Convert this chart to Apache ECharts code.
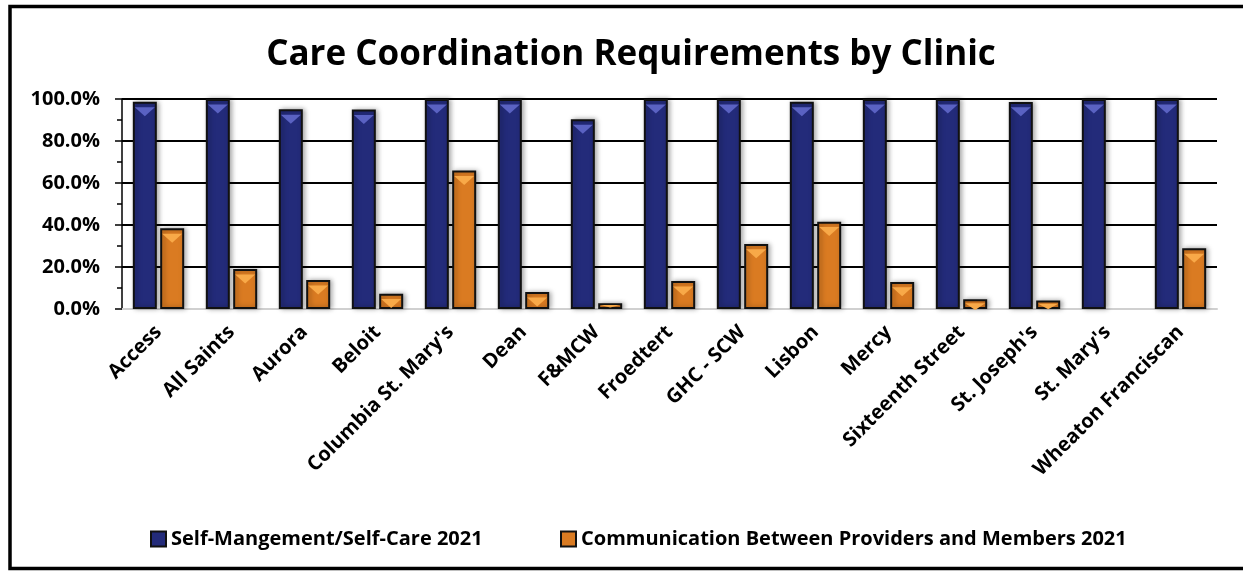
<!DOCTYPE html>
<html>
<head>
<meta charset="utf-8">
<script src="https://cdn.jsdelivr.net/npm/echarts@6/dist/echarts.min.js"></script>
<style>
html,body{margin:0;padding:0;background:#fff;}
#chart{width:1243px;height:571px;}
</style>
</head>
<body>
<div id="chart"></div>
<script>
const titleText = "Care Coordination Requirements by Clinic";
const categories = ["Access","All Saints","Aurora","Beloit","Columbia St. Mary's","Dean","F&MCW","Froedtert","GHC - SCW","Lisbon","Mercy","Sixteenth Street","St. Joseph's","St. Mary's","Wheaton Franciscan"];
const seriesNames = ["Self-Mangement/Self-Care 2021","Communication Between Providers and Members 2021"];
const selfCare = [98.7,100,95.1,95.0,100,100,90.3,100,100,98.7,100,100,98.6,100,100];
const communication = [38.4,19.0,13.8,7.3,65.9,8.1,2.7,13.3,31.0,41.6,12.9,4.6,4.0,0,28.9];
const yTicks = [0,20,40,60,80,100];

const FONT = "'Open Sans', 'Noto Sans', sans-serif";
const chart = echarts.init(document.getElementById('chart'));

function barStyle(color){
  return {
    color: color,
    borderColor: '#111111',
    borderWidth: 2,
    shadowBlur: 5,
    shadowOffsetX: 2,
    shadowOffsetY: 0,
    shadowColor: 'rgba(0,0,0,0.35)'
  };
}
function barData(values){
  return values.map(v => v === 0 ? {value: v, itemStyle: {borderWidth: 0, shadowBlur: 0}} : v);
}
// bevel highlight: shrink for very short bars so it stays inside the bar
function bevelData(values){
  return values.map(v => {
    const h = Math.min(9, v * 2.1 - 3);
    return h < 1.5 ? {value: v, symbolSize: [0, 0]} : {value: v, symbolSize: [20, h]};
  });
}

chart.setOption({
  animation: false,
  backgroundColor: '#ffffff',
  title: {
    text: titleText,
    left: 626,
    top: 33,
    textAlign: 'center',
    textStyle: {fontFamily: FONT, fontWeight: 'bold', fontSize: 35, color: '#000'}
  },
  graphic: [{
    type: 'rect',
    shape: {x: 10, y: 6.5, width: 1300, height: 562},
    style: {fill: 'none', stroke: '#000', lineWidth: 3.5},
    silent: true,
    z: 100
  }],
  legend: [{
    data: [seriesNames[0]],
    left: 145, top: 524,
    itemWidth: 15, itemHeight: 15, itemGap: 5,
    icon: 'rect',
    textStyle: {fontFamily: FONT, fontWeight: 'bold', fontSize: 20, color: '#000'}
  },{
    data: [seriesNames[1]],
    left: 555, top: 524,
    itemWidth: 15, itemHeight: 15, itemGap: 5,
    icon: 'rect',
    textStyle: {fontFamily: FONT, fontWeight: 'bold', fontSize: 20, color: '#000'}
  }],
  grid: {left: 122, right: 26, top: 99, bottom: 262, containLabel: false},
  xAxis: {
    type: 'category',
    data: categories,
    axisLine: {show: true, lineStyle: {color: '#d0d0d0', width: 2}},
    axisTick: {show: false},
    axisLabel: {
      interval: 0, rotate: 45, margin: 20,
      fontFamily: FONT, fontWeight: 'bold', fontSize: 20, color: '#000'
    }
  },
  yAxis: {
    type: 'value',
    min: 0, max: 100, interval: 20,
    axisLine: {show: true, lineStyle: {color: '#000', width: 1.5}},
    axisTick: {show: true, length: 7, lineStyle: {color: '#000', width: 1.5}},
    minorTick: {show: true, splitNumber: 2, length: 5, lineStyle: {color: '#000', width: 1.5}},
    splitLine: {show: true, lineStyle: {color: '#000', width: 2}},
    axisLabel: {
      margin: 22,
      fontFamily: FONT, fontWeight: 'bold', fontSize: 20, color: '#000',
      formatter: v => yTicks.includes(v) ? v.toFixed(1) + '%' : ''
    }
  },
  series: [{
    name: seriesNames[0],
    type: 'bar',
    data: barData(selfCare),
    barWidth: 24,
    barGap: '14%',
    itemStyle: barStyle('#232b7a')
  },{
    name: seriesNames[1],
    type: 'bar',
    data: barData(communication),
    barWidth: 24,
    barGap: '14%',
    itemStyle: barStyle('#da7b22')
  },{
    name: 'bevel1',
    type: 'pictorialBar',
    data: bevelData(selfCare),
    barWidth: 24,
    barGap: '14%',
    symbol: 'triangle',
    symbolRotate: 180,
    symbolPosition: 'end',
    symbolOffset: [0, '60%'],
    itemStyle: {color: '#5a62c2'},
    z: 5,
    silent: true
  },{
    name: 'bevel2',
    type: 'pictorialBar',
    data: bevelData(communication),
    barWidth: 24,
    barGap: '14%',
    symbol: 'triangle',
    symbolRotate: 180,
    symbolPosition: 'end',
    symbolOffset: [0, '60%'],
    itemStyle: {color: '#f8a948'},
    z: 5,
    silent: true
  }]
});
</script>
</body>
</html>
